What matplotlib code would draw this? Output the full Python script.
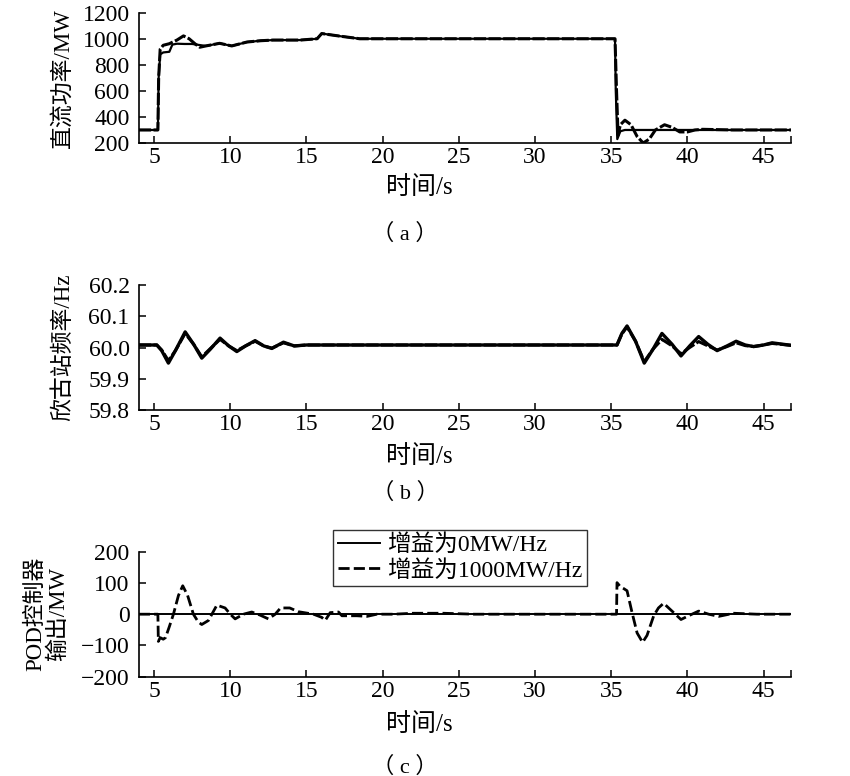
import matplotlib
matplotlib.use("Agg")
import matplotlib.pyplot as plt
from matplotlib.ticker import FixedLocator

plt.rcParams['font.family'] = ['Liberation Serif', 'Noto Sans CJK SC']
plt.rcParams['axes.unicode_minus'] = True

# ---- (a) DC power, MW ----
p0_t = [4.0, 5.25, 5.3, 5.4, 5.6, 6.0, 6.2, 6.5, 7.0, 7.5, 7.8, 8.4, 9.3, 10.1,
        11.1, 12.0, 12.8, 13.5, 14.6, 15.7, 16.0, 16.3, 17.2, 18.5, 20.0,
        25.0, 30.0, 35.25, 35.3, 35.4, 35.6, 35.9, 37.0, 40.0, 43.0, 46.8]
p0_v = [300, 300, 700, 880, 895, 900, 955, 962, 960, 960, 955, 945, 965, 945,
        975, 985, 990, 990, 990, 1000, 1040, 1035, 1020, 1000, 1000,
        1000, 1000, 1000, 600, 230, 290, 300, 300, 300, 300, 300]

p1_t = [4.0, 5.25, 5.3, 5.4, 5.6, 6.0, 6.5, 6.93, 7.3, 7.7, 8.0, 8.4, 9.3, 10.1,
        11.1, 12.0, 12.8, 13.5, 14.6, 15.7, 16.0, 16.3, 17.2, 18.5, 20.0,
        25.0, 30.0, 35.25, 35.35, 35.45, 35.6, 35.9, 36.3, 36.7, 37.1, 37.5,
        37.9, 38.5, 39.0, 39.5, 40.0, 40.5, 41.0, 43.0, 46.8]
p1_v = [300, 300, 700, 920, 950, 962, 990, 1022, 1000, 960, 935, 945, 965, 945,
        975, 985, 990, 990, 990, 1000, 1040, 1035, 1020, 1000, 1000,
        1000, 1000, 1000, 600, 260, 340, 375, 340, 250, 200, 230,
        300, 340, 320, 285, 285, 300, 305, 300, 300]

# ---- (b) frequency, Hz ----
f_t = [4.0, 5.18, 5.5, 5.94, 6.4, 7.04, 7.6, 8.13, 8.7, 9.33, 9.9, 10.43, 11.0,
       11.63, 12.2, 12.73, 13.49, 14.2, 15.0, 20.0, 25.0, 30.0, 35.38, 35.7,
       36.04, 36.6, 37.17, 37.75, 38.33, 39.0, 39.58, 40.15, 40.74, 41.35,
       41.95, 42.6, 43.2, 43.8, 44.35, 45.0, 45.56, 46.8]
f0_v = [60.008, 60.008, 59.99, 59.95, 59.99, 60.05, 60.01, 59.966, 59.995,
        60.03, 60.005, 59.987, 60.005, 60.022, 60.005, 59.997, 60.017, 60.005,
        60.008, 60.008, 60.008, 60.008, 60.008, 60.045, 60.069, 60.02, 59.95,
        59.995, 60.045, 60.01, 59.973, 60.005, 60.035, 60.01, 59.99, 60.005,
        60.02, 60.008, 60.003, 60.008, 60.015, 60.007]
f1_v = [60.008, 60.008, 59.992, 59.958, 59.99, 60.045, 60.01, 59.97, 59.997,
        60.026, 60.005, 59.99, 60.005, 60.02, 60.005, 59.998, 60.015, 60.005,
        60.008, 60.008, 60.008, 60.008, 60.008, 60.043, 60.066, 60.02, 59.955,
        59.995, 60.026, 60.005, 59.98, 60.0, 60.019, 60.005, 59.992, 60.003,
        60.015, 60.006, 60.003, 60.008, 60.013, 60.007]

# ---- (c) POD output, MW ----
c0_t = [4.0, 46.8]
c0_v = [0, 0]
c1_t = [4.0, 5.25, 5.28, 5.4, 5.6, 5.75, 6.0, 6.27, 6.6, 6.88, 7.2, 7.58, 7.9,
        8.13, 8.57, 9.12, 9.66, 10.0, 10.32, 10.86, 11.41, 11.96, 12.5, 12.95,
        13.3, 13.9, 14.47, 15.46, 16.0, 16.23, 16.56, 17.1, 17.33, 18.31,
        18.97, 19.62, 20.71, 22.0, 24.0, 26.0, 30.0, 35.35, 35.38, 35.6,
        35.82, 36.04, 36.37, 36.7, 37.06, 37.35, 37.79, 38.1, 38.44, 38.99,
        39.58, 40.08, 40.74, 41.4, 42.05, 43.04, 44.57, 46.8]
c1_v = [0, 0, -87, -75, -80, -75, -40, 0, 60, 91, 60, 0, -25,
        -33, -20, 29, 20, 0, -15, 0, 7, -3, -15, 0,
        20, 20, 8, 0, -10, -20, 5, 7, -5, -5,
        -7, 0, 0, 3, 3, 0, 0, 0, 101, 88,
        82, 75, 5, -60, -90, -68, -5, 20, 35, 10,
        -17, -5, 10, 0, -7, 3, 0, 0]

xticks = [5, 10, 15, 20, 25, 30, 35, 40, 45]
xlim = (4.03, 46.8)

fig = plt.figure(figsize=(8.5, 7.76), dpi=100)
W, H = 850.0, 776.0
left, right = 139.3 / W, 791.0 / W


def make_ax(top_px, bot_px):
    ax = fig.add_axes([left, 1 - bot_px / H, right - left, (bot_px - top_px) / H])
    for s in ['top', 'right']:
        ax.spines[s].set_visible(False)
    for s in ['left', 'bottom']:
        ax.spines[s].set_linewidth(1.2)
    ax.set_xlim(*xlim)
    ax.set_xticks(xticks)
    ax.xaxis.set_minor_locator(FixedLocator([xlim[1]]))
    ax.tick_params(axis='both', direction='in', length=5, width=1.1,
                   labelsize=17)
    ax.tick_params(axis='x', which='minor', direction='in', length=5, width=1.1)
    ax.tick_params(axis='x', pad=3)
    ax.tick_params(axis='y', pad=7)
    return ax


ax1 = make_ax(12.7, 143)
ax1.plot(p0_t, p0_v, color='black', lw=1.6)
ax1.plot(p1_t, p1_v, color='black', lw=2.2, ls=(0, (4, 0.8)))
ax1.set_ylim(200, 1200)
ax1.set_yticks([200, 400, 600, 800, 1000, 1200])
ax1.set_ylabel('直流功率/MW', fontsize=16.5)
ax1.yaxis.set_label_coords(-0.1, 0.5)

ax2 = make_ax(285, 410)
ax2.plot(f_t, f0_v, color='black', lw=2.4)
ax2.plot(f_t, f1_v, color='black', lw=2.2, ls=(0, (4, 0.8)))
ax2.set_ylim(59.8, 60.2)
ax2.set_yticks([59.8, 59.9, 60.0, 60.1, 60.2])
ax2.set_yticklabels(['59.8', '59.9', '60.0', '60.1', '60.2'])
ax2.set_ylabel('欣古站频率/Hz', fontsize=16.5)
ax2.yaxis.set_label_coords(-0.1, 0.5)

ax3 = make_ax(551.7, 676.7)
ax3.plot(c0_t, c0_v, color='black', lw=1.4, label='增益为0MW/Hz')
ax3.plot(c1_t, c1_v, color='black', lw=2.0, ls=(0, (4, 1.5)),
         label='增益为1000MW/Hz')
ax3.set_ylim(-200, 200)
ax3.set_yticks([-200, -100, 0, 100, 200])
ax3.set_yticklabels(['\u2212200', '\u2212100', '0', '100', '200'])
ax3.set_ylabel('POD控制器\n输出/MW', fontsize=16.5, linespacing=1.05)
ax3.yaxis.set_label_coords(-0.108, 0.5)
leg = ax3.legend(loc='upper left', bbox_to_anchor=(0.297, 1.174),
                 borderaxespad=0, fontsize=17, frameon=True, fancybox=False,
                 handlelength=1.8, handletextpad=0.3, borderpad=0.2,
                 labelspacing=0.15)
leg.get_frame().set_edgecolor('black')
leg.get_frame().set_linewidth(1.0)

for y_lab, y_cap, cap in [(188, 234, '（ a ）'), (457, 493, '（ b ）'), (725, 767, '（ c ）')]:
    fig.text(419 / W, 1 - y_lab / H, '时间/s', fontsize=18, ha='center', va='center')
    fig.text(405 / W, 1 - y_cap / H, cap, fontsize=16, ha='center', va='center')

fig.savefig('out.png', dpi=100)
